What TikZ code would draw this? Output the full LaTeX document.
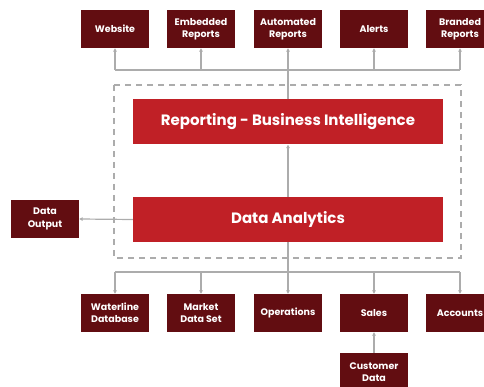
\documentclass[tikz,border=0pt]{standalone}
\usepackage{fontspec}
\setmainfont{Poppins}
\usetikzlibrary{arrows.meta,positioning}
\definecolor{maroon}{RGB}{98,13,17}
\definecolor{brandred}{RGB}{192,32,38}
\definecolor{linegray}{RGB}{172,172,172}

\begin{document}
\begin{tikzpicture}[x=1pt,y=-1pt,
  smallbox/.style={fill=maroon, text=white, minimum width=68pt, minimum height=38pt,
    inner sep=0pt, align=center, font=\bfseries\fontsize{9.5}{12.3}\selectfont},
  bigbox/.style={fill=brandred, text=white, minimum width=310pt, minimum height=45pt,
    inner sep=0pt, font=\bfseries\fontsize{15}{18}\selectfont},
  link/.style={draw=linegray, line width=1.2pt},
  arr/.style={link, -{Triangle[length=3.5pt,width=3.5pt]}}]
  \useasboundingbox (0,0) rectangle (484,387);

  % core
  \draw[linegray, line width=1.2pt, dash pattern=on 6pt off 5pt] (114,85) rectangle (461,258);
  \node[bigbox] (rbi) at (288,122) {Reporting - Business Intelligence};
  \node[bigbox] (da) at (288,219.5) {Data Analytics};
  \node[smallbox] (out) at (45,219) {Data\\Output};

  % outputs on top
  \foreach \n/\x/\t in {web/115/Website, emb/201/{Embedded\\Reports},
      auto/288/{Automated\\Reports}, alerts/374/Alerts, brand/460/{Branded\\Reports}}
    \node[smallbox] (\n) at (\x,29) {\t};

  % sources below
  \foreach \n/\x/\t in {water/115/{Waterline\\Database}, market/201/{Market\\Data Set},
      ops/288/Operations, sales/374/Sales, acc/460/Accounts}
    \node[smallbox] (\n) at (\x,313) {\t};
  \node[smallbox] (cust) at (374,372) {Customer\\Data};

  \coordinate (topbus) at (288,70);
  \coordinate (lowbus) at (288,272);

  % connectors
  \draw[link] (rbi.north) -- (topbus);
  \draw[link] (web.south |- topbus) -- (brand.south |- topbus);
  \foreach \n in {web,emb,auto,alerts,brand}
    \draw[arr] (\n.south |- topbus) -- (\n.south);

  \draw[link] (da.south) -- (lowbus);
  \draw[link] (water.north |- lowbus) -- (acc.north |- lowbus);
  \foreach \n in {water,market,ops,sales,acc}
    \draw[arr] (\n.north |- lowbus) -- (\n.north);

  \draw[arr] (da.north) -- (rbi.south);
  \draw[arr] (da.west) -- (out.east);
  \draw[arr] (cust.north) -- (sales.south);
\end{tikzpicture}
\end{document}
